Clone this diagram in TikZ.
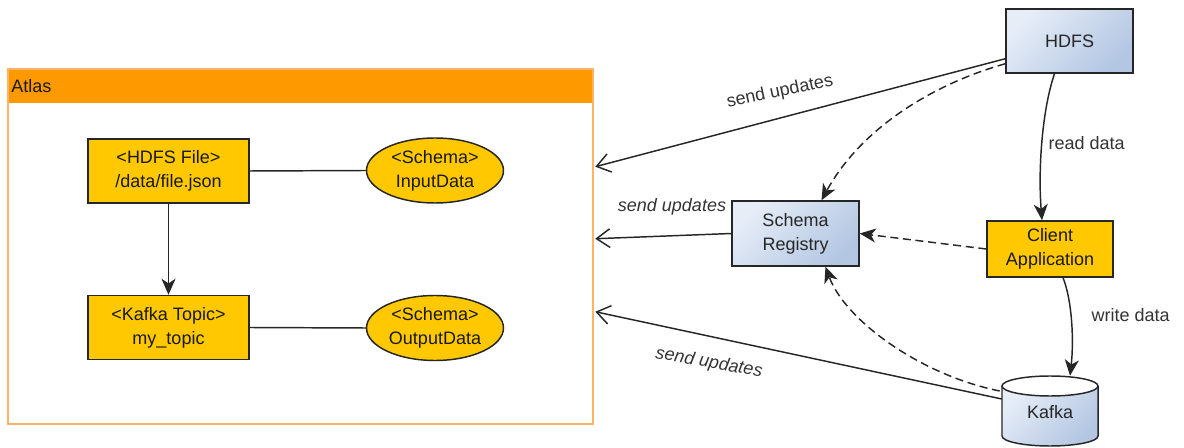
\documentclass[tikz,border=0pt]{standalone}
\usepackage{fontspec}
\setmainfont{Liberation Sans}
\usetikzlibrary{arrows.meta,shapes.geometric,calc}
\definecolor{yfill}{HTML}{FFC800}
\definecolor{hdrfill}{HTML}{FF9900}
\definecolor{atlline}{HTML}{FFB366}
\definecolor{blA}{HTML}{E6EDF7}
\definecolor{blB}{HTML}{B3C6E2}
\definecolor{lnc}{HTML}{262626}
\begin{document}
\begin{tikzpicture}[x=0.75pt,y=-0.75pt,
  font=\fontsize{13.5}{18}\selectfont,
  ybox/.style={draw=lnc, line width=1.1pt, fill=yfill, align=center, inner sep=0pt, text=black!90},
  yell/.style={ellipse, draw=lnc, line width=1.1pt, fill=yfill, align=center, inner sep=0pt, text=black!90,
    minimum width=102.75pt, minimum height=48.75pt},
  bbox/.style={draw=lnc, line width=1.1pt, top color=blA, bottom color=blB, shading angle=45,
    align=center, inner sep=0pt, text=black!85},
  lbl/.style={text=black!80, inner sep=1pt},
  conn/.style={draw=lnc, line width=1.1pt},
  openarr/.style={conn, -{Straight Barb[length=10pt, width=14pt]}},
  filarr/.style={conn, -{Stealth[length=12pt, width=10.5pt, inset=3.5pt]}},
  dasharr/.style={filarr, dash pattern=on 6pt off 3.5pt}
]
\useasboundingbox (0,0) rectangle (1184,448);

% Atlas container
\node[minimum width=438.75pt, minimum height=266.25pt, inner sep=0pt] (atlas) at (300.5,246.5) {};
\fill[hdrfill] (atlas.north west) rectangle ($(atlas.north east)+(0,34)$);
\draw[atlline, line width=1.3pt] (atlas.north west) rectangle (atlas.south east);
\node[anchor=west, text=black!90, inner sep=0pt] (atlastitle) at (11,86) {Atlas};

% inner nodes
\node[ybox, minimum width=120.75pt, minimum height=48pt] (hfile) at (168.5,171) {<HDFS File>\\/data/file.json};
\node[ybox, minimum width=120.75pt, minimum height=48pt] (ktopic) at (168.5,327.5) {<Kafka Topic>\\my\_topic};
\node[yell] (inp) at (435,170.5) {<Schema>\\InputData};
\node[yell] (outp) at (435,328) {<Schema>\\OutputData};

\draw[filarr] (hfile.south) -- (ktopic.north);
\draw[conn] (hfile.east) -- (inp.west);
\draw[conn] (ktopic.east) -- (outp.west);

% right side nodes
\node[bbox, minimum width=95.25pt, minimum height=48pt] (hdfs) at (1069.5,41) {HDFS};
\node[bbox, minimum width=95.25pt, minimum height=48.75pt] (schema) at (795.5,233.5) {Schema\\Registry};
\node[ybox, minimum width=94.5pt, minimum height=42pt] (client) at (1050,249) {Client\\Application};

% Kafka cylinder
\shade[top color=blA, bottom color=blB, shading angle=45]
  (1002,386) -- (1002,436) arc[start angle=180, end angle=0, x radius=48, y radius=10]
  -- (1098,386) arc[start angle=0, end angle=180, x radius=48, y radius=10] -- cycle;
\draw[lnc, line width=1.1pt]
  (1002,386) -- (1002,436) arc[start angle=180, end angle=0, x radius=48, y radius=10] -- (1098,386);
\draw[lnc, line width=1.1pt] (1050,386) ellipse [x radius=48, y radius=10];
\node[minimum width=72pt, minimum height=52.5pt, inner sep=0pt] (kafka) at (1050,411) {};
\node[text=black!85, inner sep=0pt] (kafkatxt) at (1050,412) {Kafka};

% connector end points
\coordinate (a1) at ($(atlas.north east)+(2,98)$);
\coordinate (a2) at ($(atlas.north east)+(2,170)$);
\coordinate (a3) at ($(atlas.north east)+(2,243)$);
\coordinate (h1) at ($(hdfs.south west)+(0,-15)$);
\coordinate (h2) at ($(hdfs.south west)+(0,-10)$);
\coordinate (k1) at ($(kafka.west)+(0,-12)$);
\coordinate (k2) at ($(kafka.west)+(-2,-20)$);

% connectors
\draw[openarr] (h1) -- (a1);
\draw[dasharr] (h2) .. controls (930,85) and (860,130) .. ($(schema.north)+(26,0)$);
\draw[openarr] (schema.west) -- (a2);
\draw[dasharr] (client.west) -- (schema.east);
\draw[filarr] ($(hdfs.south)+(-15,0)$) .. controls (1042,110) and (1038,170) .. ($(client.north)+(-8,0)$);
\draw[filarr] ($(client.south)+(13,0)$) .. controls (1072,300) and (1074,340) .. ($(kafka.north)+(20,0)$);
\draw[openarr] (k1) -- (a3);
\draw[dasharr] (k2) .. controls (920,375) and (845,320) .. ($(schema.south)+(30,0)$);

% labels
\node[lbl, rotate=12] (l1) at (780,92) {send updates};
\node[lbl, font=\fontsize{13.5}{18}\selectfont\itshape] (l2) at (672,207) {send updates};
\node[lbl, rotate=-10, font=\fontsize{13.5}{18}\selectfont\itshape] (l3) at (709,363) {send updates};
\node[lbl, anchor=west] (l4) at (1047,143) {read data};
\node[lbl, anchor=west] (l5) at (1090,315) {write data};
\end{tikzpicture}
\end{document}
